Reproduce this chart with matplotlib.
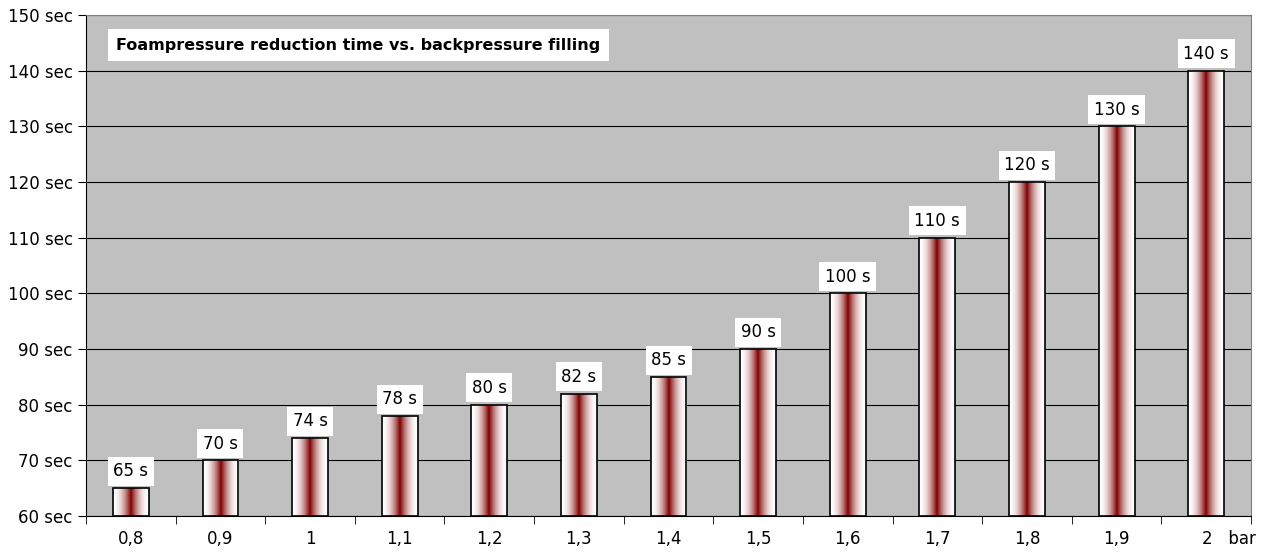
import matplotlib.pyplot as plt
import numpy as np
from matplotlib.colors import LinearSegmentedColormap
from matplotlib.transforms import ScaledTranslation

# Data
pressure = ["0,8", "0,9", "1", "1,1", "1,2", "1,3", "1,4", "1,5", "1,6", "1,7", "1,8", "1,9", "2"]
seconds = [65, 70, 74, 78, 80, 82, 85, 90, 100, 110, 120, 130, 140]
value_labels = [f"{v} s" for v in seconds]
y_ticks = list(range(60, 151, 10))
unit = "bar"

fig = plt.figure(figsize=(12.65, 5.54), dpi=100)
ax = fig.add_axes([86 / 1265, 1 - 516 / 554, (1251 - 86) / 1265, (516 - 15) / 554])
ax.set_facecolor("#c0c0c0")

x = np.arange(len(pressure))
bar_w = 0.4

# horizontal gradient white -> dark red -> white for every bar
cmap = LinearSegmentedColormap.from_list("bar", ["#ffffff", "#800000"])
t = np.linspace(-1, 1, 200)
grad = ((1 - np.abs(t)) ** 2)[np.newaxis, :]

bars = ax.bar(x, np.array(seconds) - 60, bottom=60, width=bar_w,
              facecolor="none", edgecolor="black", linewidth=1.2, zorder=3)
for b in bars:
    x0, y0 = b.get_x(), b.get_y()
    im = ax.imshow(grad, cmap=cmap, vmin=0, vmax=1, aspect="auto", zorder=2,
                   extent=(x0, x0 + b.get_width(), y0, y0 + b.get_height()))
    im.set_clip_path(b)

ax.set_xlim(-0.5, len(pressure) - 0.5)
ax.set_ylim(60, 150)

for xi, v, lab in zip(x, seconds, value_labels):
    ax.text(xi, v + 1.4, lab, ha="center", va="bottom", fontsize=12, zorder=5,
            bbox=dict(facecolor="white", edgecolor="none", pad=4))

ax.set_yticks(y_ticks)
ax.set_yticklabels([f"{v} sec" for v in y_ticks], fontsize=12)
ax.yaxis.grid(True, color="black", linewidth=0.8)
ax.set_axisbelow(True)

ax.set_xticks(x)
ax.set_xticklabels(pressure[:-1] + [pressure[-1] + "   " + unit], fontsize=12)
ax.tick_params(axis="x", length=0, pad=10)
ax.set_xticks(np.arange(-0.5, len(pressure), 1), minor=True)
ax.tick_params(axis="x", which="minor", length=6, direction="out")
ax.tick_params(axis="y", length=6, direction="out")

# last label is shifted left by Excel so "2   bar" fits inside the chart
last = ax.get_xticklabels()[-1]
last.set_horizontalalignment("right")
last.set_transform(last.get_transform() + ScaledTranslation(0.50, 0, fig.dpi_scale_trans))

for side in ["top", "right"]:
    ax.spines[side].set_color("#808080")
ax.spines["left"].set_color("black")
ax.spines["bottom"].set_color("black")

ax.text(0.026, 0.94, "Foampressure reduction time vs. backpressure filling",
        transform=ax.transAxes, fontsize=11.5, fontweight="bold", ha="left", va="center",
        zorder=6, bbox=dict(facecolor="white", edgecolor="none", pad=6))

fig.savefig("out.png", dpi=100)
